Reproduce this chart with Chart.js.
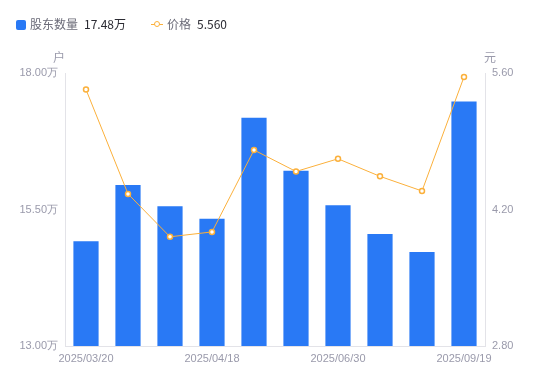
<!DOCTYPE html>
<html>
<head>
<meta charset="utf-8">
<script src="https://cdn.jsdelivr.net/npm/chart.js@4/dist/chart.umd.min.js"></script>
<style>
	body { margin: 0; background: #fff; font-family: "Noto Sans CJK SC", "Noto Sans", sans-serif; }
	#wrap { position: relative; width: 550px; height: 381px; }
	.lg { position: absolute; top: 15px; font-size: 12px; line-height: 18px; color: #6b6b78; white-space: nowrap; }
	.lg b { font-weight: normal; color: #2b2b33; margin-left: 6px; }
	.sq { display: inline-block; width: 10px; height: 10px; background: #2979f5; border-radius: 2px; vertical-align: -1px; margin-right: 4px; }
	.ln { display: inline-block; position: relative; width: 12px; height: 10px; vertical-align: -1px; margin-right: 4px; }
	.ln:before { content: ""; position: absolute; left: 0; right: 0; top: 4px; height: 1px; background: #fbb03b; }
	.ln:after { content: ""; position: absolute; left: 3px; top: 1px; width: 4px; height: 4px; border: 1.5px solid #fbb03b; border-radius: 50%; background: #fff; }
	.unit { position: absolute; top: 48px; font-size: 12px; color: #9a9aab; }
</style>
</head>
<body>
<div id="wrap">
	<canvas id="grHolders" width="550" height="381"></canvas>
	<div class="lg" style="left:16px"><span class="sq"></span>股东数量<b>17.48万</b></div>
	<div class="lg" style="left:151px"><span class="ln"></span>价格<b>5.560</b></div>
	<div class="unit" style="left:53px">户</div>
	<div class="unit" style="left:484px">元</div>
</div>
<script>
var dates = ["2025/03/20", "2025/03/31", "2025/04/10", "2025/04/18", "2025/05/20", "2025/06/10", "2025/06/30", "2025/07/31", "2025/08/29", "2025/09/19"];
var holders = [14.92, 15.95, 15.56, 15.33, 17.18, 16.21, 15.58, 15.05, 14.72, 17.48];
var price = [5.43, 4.36, 3.92, 3.97, 4.81, 4.59, 4.72, 4.54, 4.39, 5.56];
var shownDates = [0, 3, 6, 9];

var tickColor = "#9a9aab";
var lineColor = "#e3e3e8";

var config = {
	type: 'bar',
	data: {
		labels: dates,
		datasets: [{
			type: 'line',
			label: "价格",
			data: price,
			yAxisID: 'yPrice',
			borderColor: "#fbb03b",
			borderWidth: 1,
			backgroundColor: "#fff",
			pointBackgroundColor: "#fff",
			pointBorderColor: "#fbb03b",
			pointBorderWidth: 1.5,
			pointRadius: 2.5,
			tension: 0,
			order: 0
		}, {
			label: "股东数量",
			data: holders,
			yAxisID: 'yHolders',
			backgroundColor: "#2979f5",
			categoryPercentage: 1,
			barPercentage: 0.6,
			order: 1
		}]
	},
	options: {
		responsive: false,
		animation: false,
		layout: { padding: { top: 73, left: 0, right: 0, bottom: 0 } },
		plugins: { legend: { display: false }, tooltip: { enabled: false } },
		scales: {
			x: {
				grid: { display: false, drawTicks: false },
				border: { color: lineColor },
				ticks: {
					autoSkip: false, maxRotation: 0, padding: 6,
					color: tickColor, font: { size: 11 },
					callback: function(v, i) { return shownDates.indexOf(i) >= 0 ? dates[i] : ''; }
				},
				afterFit: function(s) { s.height = 35; }
			},
			yHolders: {
				position: 'left',
				min: 13, max: 18,
				grid: { display: false, drawTicks: true, tickLength: 4, color: lineColor },
				border: { color: lineColor },
				ticks: {
					stepSize: 2.5, padding: 3, color: tickColor, font: { size: 11 },
					callback: function(v) { return v.toFixed(2) + "万"; }
				},
				afterFit: function(s) { s.width = 65; }
			},
			yPrice: {
				position: 'right',
				min: 2.8, max: 5.6,
				grid: { display: false, drawTicks: true, tickLength: 4, color: lineColor },
				border: { color: lineColor },
				ticks: {
					stepSize: 1.4, padding: 3, color: tickColor, font: { size: 11 },
					callback: function(v) { return v.toFixed(2); }
				},
				afterFit: function(s) { s.width = 65; }
			}
		}
	}
};

var ctx = document.getElementById("grHolders").getContext("2d");
window.myChart = new Chart(ctx, config);
</script>
</body>
</html>
